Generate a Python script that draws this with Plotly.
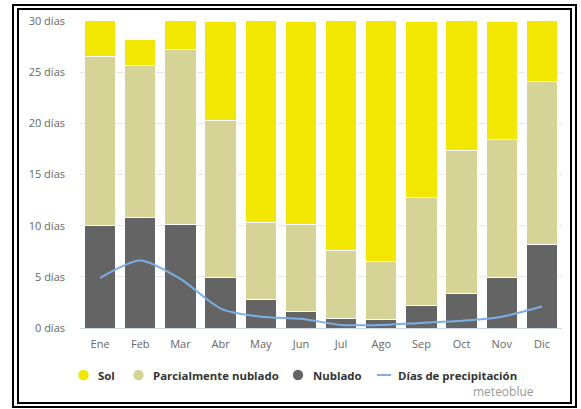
import plotly.graph_objects as go

months = ["Ene", "Feb", "Mar", "Abr", "May", "Jun", "Jul", "Ago", "Sep", "Oct", "Nov", "Dic"]
nublado = [10.0, 10.8, 10.1, 4.9, 2.8, 1.6, 0.9, 0.8, 2.2, 3.4, 4.9, 8.2]
parcial = [16.5, 14.9, 17.1, 15.4, 7.5, 8.5, 6.7, 5.7, 10.6, 13.9, 13.5, 15.9]
sol = [4.5, 2.5, 3.8, 9.7, 20.7, 19.9, 23.4, 24.5, 17.2, 13.7, 11.6, 6.9]
precip = [4.9, 6.6, 4.8, 1.9, 1.1, 0.9, 0.3, 0.3, 0.5, 0.7, 1.1, 2.1]
y_ticks = [0, 5, 10, 15, 20, 25, 30]
y_labels = [f"{v} días" for v in y_ticks]
legend_names = ["Sol", "Parcialmente nublado", "Nublado", "Días de precipitación"]

C_SOL = "#f2e700"
C_PAR = "#d6d396"
C_NUB = "#646464"
C_PRE = "#7cafe6"

W, H = 581, 409
L, R, T, B = 80, 19, 21, 81
pw, ph = W - L - R, H - T - B

def px(x):
    return (x - L) / pw

def py(y):
    return (H - B - y) / ph

fig = go.Figure()
bar_line = dict(color="white", width=1)
fig.add_bar(x=months, y=nublado, name="Nublado", marker=dict(color=C_NUB, line=bar_line))
fig.add_bar(x=months, y=parcial, name="Parcialmente nublado", marker=dict(color=C_PAR, line=bar_line))
fig.add_bar(x=months, y=sol, name="Sol", marker=dict(color=C_SOL, line=bar_line))
fig.add_scatter(x=months, y=precip, mode="lines", name="Días de precipitación",
                line=dict(color=C_PRE, width=2, shape="spline", smoothing=0.7))

# legend built from shapes + annotations (horizontal, one row)
LEG_Y = 375
shapes = []
annotations = []
legend_items = [
    (legend_names[0], C_SOL, "circle", 83.5, 96),
    (legend_names[1], C_PAR, "circle", 138.5, 151),
    (legend_names[2], C_NUB, "circle", 298, 310.5),
    (legend_names[3], C_PRE, "line", 384, 396),
]
for name, col, kind, cx, tx in legend_items:
    if kind == "circle":
        shapes.append(dict(type="circle", xref="paper", yref="paper",
                           x0=px(cx - 5.2), x1=px(cx + 5.2), y0=py(LEG_Y + 5.2), y1=py(LEG_Y - 5.2),
                           fillcolor=col, line=dict(width=0)))
    else:
        shapes.append(dict(type="line", xref="paper", yref="paper",
                           x0=px(cx - 7), x1=px(cx + 7), y0=py(LEG_Y), y1=py(LEG_Y),
                           line=dict(color=col, width=2)))
    annotations.append(dict(text=f"<b>{name}</b>", x=px(tx), y=py(LEG_Y), xref="paper", yref="paper",
                            xanchor="left", yanchor="middle", showarrow=False,
                            font=dict(size=11.4, color="#333333", family="Open Sans")))

annotations.append(dict(text="meteoblue", x=px(535.5), y=py(391), xref="paper", yref="paper",
                        xanchor="right", yanchor="middle", showarrow=False,
                        font=dict(size=12, color="#999999", family="Open Sans")))

# double black frame
shapes += [
    dict(type="rect", xref="paper", yref="paper", x0=px(13), x1=px(576), y0=py(407), y1=py(5),
         line=dict(color="black", width=2)),
    dict(type="rect", xref="paper", yref="paper", x0=px(18), x1=px(571), y0=py(403), y1=py(9),
         line=dict(color="black", width=2)),
]

fig.update_layout(
    width=W, height=H,
    margin=dict(l=L, r=R, t=T, b=B, pad=0),
    barmode="stack", bargap=0.22,
    plot_bgcolor="white", paper_bgcolor="white",
    font=dict(family="Open Sans", size=11, color="#666666"),
    xaxis=dict(showgrid=False, showline=True, linecolor="#ccd6eb", linewidth=1,
               ticks="", tickfont=dict(size=11, color="#666666"), ticklabelstandoff=6),
    yaxis=dict(range=[0, 30], tickvals=y_ticks, ticktext=y_labels, showgrid=True,
               gridcolor="#e6e6e6", gridwidth=1, zeroline=False, ticks="",
               tickfont=dict(size=11, color="#666666"), ticklabelstandoff=14),
    showlegend=False,
    annotations=annotations,
    shapes=shapes,
)

fig.write_html("out.html", config={"displayModeBar": False},
               post_script="document.body.style.margin='0';document.body.style.overflow='hidden';")
